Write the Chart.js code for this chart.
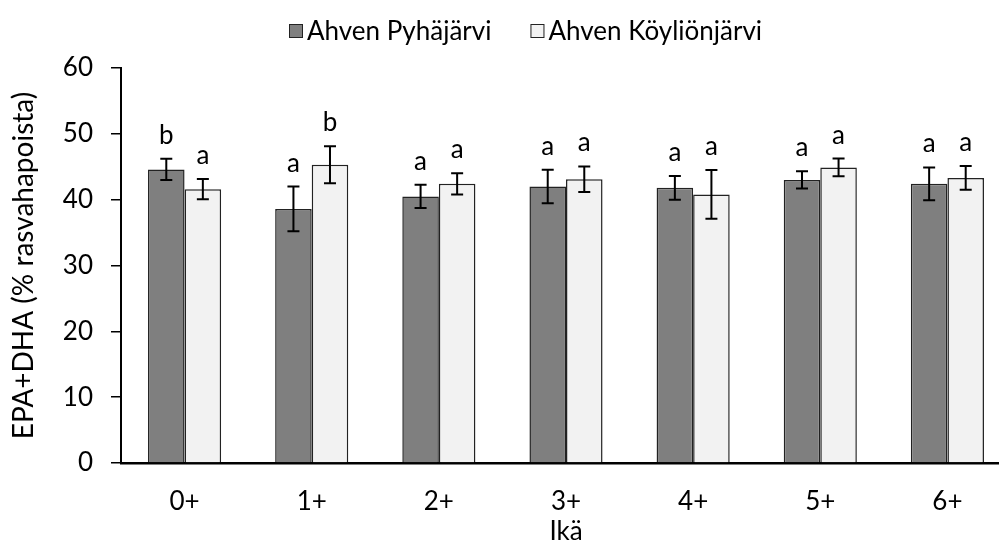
<!DOCTYPE html>
<html>
<head>
<meta charset="utf-8">
<script src="https://cdn.jsdelivr.net/npm/chart.js@4.4.1/dist/chart.umd.min.js"></script>
<style>
  html, body { margin: 0; padding: 0; background: #fff; overflow: hidden; }
  #wrap { width: 1011px; height: 547px; }
</style>
</head>
<body>
<div id="wrap"><canvas id="chart" width="1011" height="547"></canvas></div>
<script>
// Age classes
const ages = ['0+', '1+', '2+', '3+', '4+', '5+', '6+'];

// EPA+DHA share of fatty acids (%), mean and error
const pyhajarvi = [44.6, 38.6, 40.5, 42.0, 41.8, 43.0, 42.4];
const pyhajarviErr = [1.6, 3.4, 1.75, 2.55, 1.8, 1.3, 2.5];
const koylionjarvi = [41.6, 45.3, 42.4, 43.1, 40.8, 44.9, 43.3];
const koylionjarviErr = [1.55, 2.8, 1.6, 1.95, 3.7, 1.35, 1.8];

// Significance groups shown above each bar
const pyhajarviGroups = ['b', 'a', 'a', 'a', 'a', 'a', 'a'];
const koylionjarviGroups = ['a', 'b', 'a', 'a', 'a', 'a', 'a'];

// Y axis ticks
const yTicks = [0, 10, 20, 30, 40, 50, 60];

const FONT = 'Lato';
const FONT_SIZE = 26;

// Error bars with caps, plus the group letter above each
const errorBars = {
  id: 'errorBars',
  afterDatasetsDraw(chart) {
    const ctx = chart.ctx;
    const yScale = chart.scales.y;
    chart.data.datasets.forEach((ds, di) => {
      const meta = chart.getDatasetMeta(di);
      meta.data.forEach((bar, i) => {
        const v = ds.data[i];
        const e = ds.errors[i];
        const x = bar.x;
        const top = yScale.getPixelForValue(v + e);
        const bottom = yScale.getPixelForValue(v - e);
        ctx.save();
        ctx.strokeStyle = '#000';
        ctx.lineWidth = 2;
        ctx.beginPath();
        ctx.moveTo(x, top); ctx.lineTo(x, bottom);
        ctx.moveTo(x - 6, top); ctx.lineTo(x + 6, top);
        ctx.moveTo(x - 6, bottom); ctx.lineTo(x + 6, bottom);
        ctx.stroke();
        ctx.fillStyle = '#000';
        ctx.font = FONT_SIZE + 'px ' + FONT;
        ctx.textAlign = 'center';
        ctx.textBaseline = 'alphabetic';
        ctx.fillText(ds.groups[i], x, top - 15);
        ctx.restore();
      });
    });
  }
};

// Legend row near the top of the page
const topLegend = {
  id: 'topLegend',
  afterDraw(chart) {
    const ctx = chart.ctx;
    const box = 14, gapText = 4, gapItem = 39, centerX = 526, midY = 31;
    ctx.save();
    ctx.font = FONT_SIZE + 'px ' + FONT;
    const items = chart.data.datasets.map(ds => ({
      text: ds.label, fill: ds.backgroundColor, stroke: ds.borderColor,
      w: box + gapText + ctx.measureText(ds.label).width
    }));
    const total = items.reduce((s, it) => s + it.w, 0) + gapItem * (items.length - 1);
    let x = Math.round(centerX - total / 2);
    items.forEach(it => {
      ctx.fillStyle = it.fill;
      ctx.fillRect(x, midY - box / 2, box, box);
      ctx.strokeStyle = it.stroke;
      ctx.lineWidth = 1;
      ctx.strokeRect(x + 0.5, midY - box / 2 + 0.5, box - 1, box - 1);
      ctx.fillStyle = '#000';
      ctx.textAlign = 'left';
      ctx.textBaseline = 'middle';
      ctx.fillText(it.text, x + box + gapText, midY + 1);
      x += it.w + gapItem;
    });
    ctx.restore();
  }
};

function draw() {
  new Chart(document.getElementById('chart'), {
    type: 'bar',
    data: {
      labels: ages,
      datasets: [
        {
          label: 'Ahven Pyhäjärvi',
          data: pyhajarvi,
          errors: pyhajarviErr,
          groups: pyhajarviGroups,
          backgroundColor: '#7f7f7f',
          borderColor: '#222222',
          borderWidth: 1.5
        },
        {
          label: 'Ahven Köyliönjärvi',
          data: koylionjarvi,
          errors: koylionjarviErr,
          groups: koylionjarviGroups,
          backgroundColor: '#f2f2f2',
          borderColor: '#222222',
          borderWidth: 1.5
        }
      ]
    },
    options: {
      responsive: false,
      animation: false,
      events: [],
      layout: { padding: { top: 68, left: 0, right: 0, bottom: 0 } },
      datasets: { bar: { categoryPercentage: 0.575, barPercentage: 1 } },
      plugins: {
        legend: { display: false },
        tooltip: { enabled: false }
      },
      scales: {
        x: {
          grid: { display: false, drawTicks: false },
          border: { display: true, color: '#000', width: 2.5 },
          ticks: { color: '#000', font: { family: FONT, size: FONT_SIZE }, padding: 23 },
          title: {
            display: true, text: 'Ikä', color: '#000',
            font: { family: FONT, size: FONT_SIZE }, padding: { top: 0, bottom: 0 }
          },
          afterFit(scale) { scale.height = 84; }
        },
        y: {
          min: 0, max: 60,
          afterBuildTicks(scale) { scale.ticks = yTicks.map(v => ({ value: v })); },
          grid: { display: true, drawOnChartArea: false, drawTicks: true, tickLength: 10, color: '#000', lineWidth: 1.5 },
          border: { display: true, color: '#000', width: 2 },
          ticks: { color: '#000', font: { family: FONT, size: FONT_SIZE }, padding: 18 },
          title: {
            display: true, text: 'EPA+DHA (% rasvahapoista)', color: '#000',
            font: { family: FONT, size: FONT_SIZE + 2 }, padding: { top: 7, bottom: 0 }
          },
          afterFit(scale) { scale.width = 121; }
        }
      }
    },
    plugins: [errorBars, topLegend]
  });
}

if (document.fonts && document.fonts.load) {
  document.fonts.load(FONT_SIZE + 'px ' + FONT).then(draw, draw);
} else {
  draw();
}
</script>
</body>
</html>
